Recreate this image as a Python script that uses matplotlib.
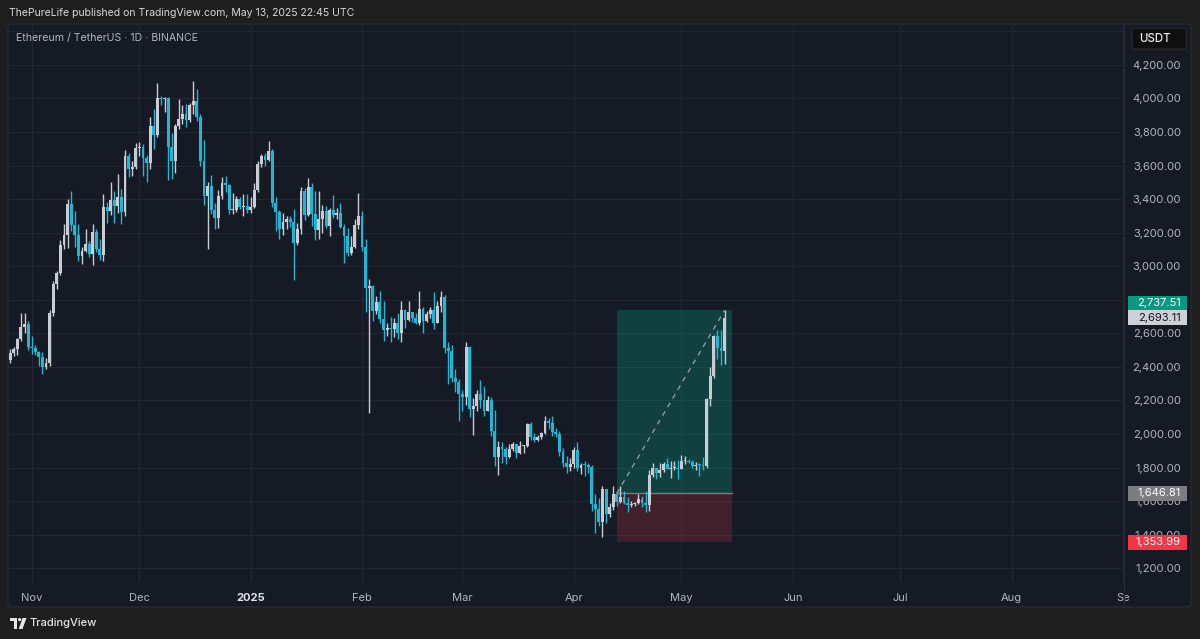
import matplotlib
matplotlib.use('Agg')
import matplotlib.pyplot as plt
import matplotlib.dates as mdates
from matplotlib.patches import Rectangle, FancyBboxPatch, Polygon, Circle
from matplotlib.lines import Line2D
from matplotlib.transforms import IdentityTransform
import pandas as pd
import numpy as np

# ---------------- data ----------------
start_date = '2024-10-26'
opens = [2439, 2480, 2507, 2567, 2639, 2658, 2518, 2512, 2491, 2457,
         2398, 2421, 2721, 2895, 2962, 3127, 3184, 3371, 3243, 3186,
         3060, 3090, 3133, 3073, 3207, 3105, 3070, 3356, 3328, 3393,
         3362, 3414, 3326, 3655, 3579, 3592, 3705, 3708, 3645, 3614,
         3838, 3785, 4000, 3996, 4005, 3713, 3630, 3835, 3880, 3908,
         3872, 3960, 3985, 3890, 3630, 3420, 3476, 3335, 3285, 3420,
         3495, 3485, 3333, 3335, 3400, 3352, 3358, 3333, 3355, 3453,
         3612, 3660, 3636, 3685, 3380, 3325, 3220, 3265, 3282, 3266,
         3136, 3225, 3450, 3305, 3475, 3310, 3215, 3280, 3327, 3242,
         3336, 3305, 3318, 3232, 3182, 3077, 3114, 3246, 3300, 3117,
         2870, 2880, 2732, 2788, 2686, 2623, 2632, 2627, 2661, 2603,
         2738, 2677, 2725, 2693, 2663, 2744, 2671, 2714, 2738, 2663,
         2764, 2816, 2511, 2496, 2333, 2308, 2237, 2218, 2518, 2152,
         2170, 2240, 2200, 2140, 2202, 2016, 1865, 1922, 1910, 1865,
         1910, 1938, 1887, 1928, 1931, 2057, 1981, 1966, 1982, 2004,
         2080, 2068, 2010, 2003, 1895, 1828, 1805, 1823, 1906, 1795,
         1816, 1815, 1806, 1580, 1553, 1473, 1670, 1522, 1566, 1643,
         1596, 1622, 1587, 1576, 1584, 1588, 1614, 1587, 1578, 1756,
         1796, 1769, 1786, 1819, 1792, 1797, 1799, 1793, 1838, 1842,
         1833, 1807, 1816, 1815, 1809, 2207, 2345, 2582, 2514, 2495]
highs = [2508, 2520, 2575, 2722, 2722, 2675, 2585, 2530, 2497, 2489,
         2456, 2742, 2910, 2970, 3159, 3250, 3400, 3446, 3329, 3250,
         3115, 3220, 3151, 3253, 3220, 3160, 3430, 3385, 3500, 3448,
         3550, 3460, 3690, 3675, 3630, 3735, 3740, 3730, 3665, 3890,
         3940, 4090, 4015, 4010, 4010, 3795, 3845, 3995, 3960, 3970,
         3975, 4107, 4055, 3910, 3750, 3500, 3545, 3375, 3455, 3530,
         3540, 3490, 3435, 3418, 3410, 3430, 3430, 3410, 3495, 3625,
         3670, 3675, 3745, 3700, 3410, 3335, 3320, 3300, 3300, 3340,
         3260, 3475, 3465, 3525, 3495, 3450, 3450, 3365, 3360, 3350,
         3425, 3345, 3375, 3250, 3230, 3180, 3280, 3437, 3330, 3160,
         2925, 2890, 2825, 2855, 2795, 2660, 2695, 2690, 2720, 2795,
         2745, 2790, 2727, 2720, 2850, 2755, 2735, 2760, 2845, 2790,
         2855, 2830, 2550, 2530, 2390, 2325, 2260, 2550, 2525, 2215,
         2260, 2320, 2285, 2225, 2220, 2145, 1960, 1955, 1925, 1940,
         1950, 1940, 1960, 1935, 2065, 2070, 2005, 1995, 2010, 2105,
         2095, 2110, 2035, 2020, 1915, 1870, 1860, 1925, 1955, 1830,
         1840, 1825, 1815, 1640, 1620, 1690, 1675, 1590, 1690, 1660,
         1690, 1660, 1625, 1600, 1596, 1640, 1630, 1660, 1785, 1830,
         1800, 1825, 1835, 1860, 1840, 1838, 1845, 1875, 1870, 1850,
         1845, 1835, 1830, 1865, 2215, 2400, 2590, 2620, 2620, 2737]
lows = [2425, 2465, 2470, 2557, 2600, 2500, 2478, 2470, 2406, 2356,
        2385, 2407, 2701, 2865, 2945, 3103, 3107, 3208, 3117, 3034,
        3016, 3086, 3055, 3010, 3087, 3040, 3030, 3260, 3305, 3255,
        3315, 3250, 3297, 3530, 3540, 3580, 3660, 3540, 3500, 3580,
        3700, 3770, 3960, 3920, 3515, 3520, 3555, 3820, 3845, 3830,
        3860, 3905, 3865, 3600, 3365, 3100, 3310, 3225, 3230, 3400,
        3445, 3310, 3310, 3325, 3340, 3300, 3320, 3320, 3345, 3440,
        3590, 3595, 3625, 3355, 3210, 3160, 3185, 3225, 3235, 2920,
        3125, 3190, 3275, 3300, 3240, 3155, 3160, 3200, 3230, 3180,
        3285, 3280, 3230, 3020, 3060, 3065, 3110, 3225, 3090, 2725,
        2125, 2675, 2715, 2660, 2555, 2585, 2550, 2580, 2567, 2550,
        2630, 2673, 2670, 2655, 2650, 2600, 2665, 2690, 2625, 2660,
        2730, 2485, 2300, 2310, 2250, 2075, 2140, 2175, 2100, 1993,
        2135, 2155, 2105, 2135, 1990, 1810, 1755, 1830, 1820, 1855,
        1900, 1860, 1880, 1885, 1925, 1963, 1950, 1960, 1970, 2000,
        2030, 1990, 1985, 1870, 1805, 1770, 1780, 1800, 1780, 1760,
        1750, 1765, 1540, 1410, 1450, 1385, 1470, 1505, 1545, 1570,
        1590, 1580, 1535, 1565, 1571, 1580, 1565, 1535, 1540, 1745,
        1730, 1745, 1775, 1790, 1740, 1785, 1730, 1790, 1820, 1825,
        1800, 1785, 1750, 1785, 1800, 2165, 2335, 2450, 2410, 2420]
closes = [2480, 2507, 2567, 2639, 2658, 2518, 2512, 2491, 2457, 2398,
          2421, 2721, 2895, 2962, 3127, 3184, 3371, 3243, 3186, 3060,
          3090, 3133, 3073, 3207, 3105, 3070, 3356, 3328, 3393, 3362,
          3414, 3326, 3655, 3579, 3592, 3705, 3708, 3645, 3614, 3838,
          3785, 4000, 3996, 4005, 3713, 3630, 3835, 3880, 3908, 3872,
          3960, 3985, 3890, 3630, 3420, 3476, 3335, 3285, 3420, 3495,
          3485, 3333, 3335, 3400, 3352, 3358, 3333, 3355, 3453, 3612,
          3660, 3636, 3685, 3380, 3325, 3220, 3265, 3282, 3266, 3136,
          3225, 3450, 3305, 3475, 3310, 3215, 3280, 3327, 3242, 3336,
          3305, 3318, 3232, 3182, 3077, 3114, 3246, 3300, 3117, 2870,
          2880, 2732, 2788, 2686, 2623, 2632, 2627, 2661, 2603, 2738,
          2677, 2725, 2693, 2663, 2744, 2671, 2714, 2738, 2663, 2764,
          2816, 2511, 2496, 2333, 2308, 2237, 2218, 2518, 2152, 2170,
          2240, 2200, 2140, 2202, 2016, 1865, 1922, 1910, 1865, 1910,
          1938, 1887, 1928, 1931, 2057, 1981, 1966, 1982, 2004, 2080,
          2068, 2010, 2003, 1895, 1828, 1805, 1823, 1906, 1795, 1816,
          1815, 1806, 1580, 1553, 1473, 1670, 1522, 1566, 1643, 1596,
          1622, 1587, 1576, 1584, 1588, 1614, 1587, 1578, 1756, 1796,
          1769, 1786, 1819, 1792, 1797, 1799, 1793, 1838, 1842, 1833,
          1807, 1816, 1815, 1809, 2207, 2345, 2582, 2514, 2495, 2693.11]

entry_price = 1646.81
target_price = 2737.51
stop_price = 1353.99
position_start = '2025-04-13'
position_end = '2025-05-15'

y_ticks = [1200, 1400, 1600, 1800, 2000, 2200, 2400, 2600, 2800, 3000,
           3200, 3400, 3600, 3800, 4000, 4200, 4400]
y_tick_labels = ['1,200.00', '1,400.00', '1,600.00', '1,800.00', '2,000.00',
                 '2,200.00', '2,400.00', '2,600.00', '', '3,000.00',
                 '3,200.00', '3,400.00', '3,600.00', '3,800.00', '4,000.00',
                 '4,200.00', '']
month_ticks = ['2024-11-01', '2024-12-01', '2025-01-01', '2025-02-01', '2025-03-01',
               '2025-04-01', '2025-05-01', '2025-06-01', '2025-07-01', '2025-08-01',
               '2025-09-01']
month_labels = ['Nov', 'Dec', '2025', 'Feb', 'Mar', 'Apr', 'May', 'Jun', 'Jul', 'Aug', 'Se']

title_text = 'ThePureLife published on TradingView.com, May 13, 2025 22:45 UTC'
symbol_text = 'Ethereum / TetherUS \u00b7 1D \u00b7 BINANCE'

# ---------------- style ----------------
W, H = 1200, 639
OUTER = '#1e1e1e'
PANEL = '#161a25'
GRID = '#232733'
UP = '#c9ccd3'
DOWN = '#1fb7d3'
AXTXT = '#b2b5be'

plt.rcParams['font.family'] = ['Inter', 'DejaVu Sans']

fig = plt.figure(figsize=(W / 100, H / 100), dpi=100, facecolor=OUTER)


def fx(px):
    return px / W


def fy(py):
    return 1 - py / H


# chart panel
panel = FancyBboxPatch((fx(8), fy(607)), fx(1191) - fx(8), fy(24) - fy(607),
                       boxstyle='round,pad=0,rounding_size=0.004',
                       transform=fig.transFigure, facecolor=PANEL,
                       edgecolor='#2a2d36', linewidth=0.8, zorder=0)
fig.add_artist(panel)

ax = fig.add_axes([fx(8), fy(583), fx(1124) - fx(8), fy(24) - fy(583)])
ax.set_facecolor('none')
for s in ax.spines.values():
    s.set_visible(False)

dates = pd.date_range(start_date, periods=len(closes), freq='D')
x = mdates.date2num(dates)
o = np.array(opens, dtype=float)
h = np.array(highs, dtype=float)
l = np.array(lows, dtype=float)
c = np.array(closes, dtype=float)
up = c >= o
cols = np.where(up, UP, DOWN)

nov1 = mdates.date2num(pd.Timestamp('2024-11-01'))
ax.set_xlim(nov1 - 6.6, nov1 + 304.27)
ax.set_ylim(1112, 4444)

# grid
ax.set_yticks(y_ticks)
ax.set_yticklabels(y_tick_labels)
mt = mdates.date2num(pd.to_datetime(month_ticks))
ax.set_xticks(mt)
ax.set_xticklabels(month_labels)
ax.grid(True, color=GRID, linewidth=0.8, zorder=0)
ax.set_axisbelow(True)

ax.yaxis.tick_right()
ax.tick_params(axis='y', length=0, pad=41, labelsize=8, labelcolor=AXTXT)
for t in ax.get_yticklabels():
    t.set_horizontalalignment('right')
ax.tick_params(axis='x', length=0, pad=7, labelsize=8, labelcolor=AXTXT)
for t in ax.get_xticklabels():
    if t.get_text() == '2025':
        t.set_fontweight('bold')
        t.set_color('#e0e3eb')

# long position tool
ps = mdates.date2num(pd.Timestamp(position_start))
pe = mdates.date2num(pd.Timestamp(position_end))
ax.add_patch(Rectangle((ps, entry_price), pe - ps, target_price - entry_price,
                       facecolor='#089981', alpha=0.3, linewidth=0, zorder=1))
ax.add_patch(Rectangle((ps, stop_price), pe - ps, entry_price - stop_price,
                       facecolor='#f23645', alpha=0.2, linewidth=0, zorder=1))
ax.plot([ps, pe], [entry_price, entry_price], color='#787b86', linewidth=1.0, zorder=2)

# candles
ax.vlines(x, l, h, colors=cols, linewidth=1.0, zorder=3)
body_lo = np.minimum(o, c)
body_h = np.maximum(np.abs(c - o), 6)
ax.bar(x, body_h, bottom=body_lo, width=0.8, color=cols, linewidth=0, zorder=4)

# dashed line entry -> current
ax.plot([ps, x[-1]], [entry_price, h[-1]], color='#9ea2ab', linewidth=0.9,
        linestyle=(0, (4, 4)), zorder=5)

# separator between plot and price scale
fig.add_artist(Line2D([fx(1124), fx(1124)], [fy(607), fy(24)], transform=fig.transFigure,
                      color='#262a35', linewidth=0.8))

# price labels
ident = IdentityTransform()


def price_px(p):
    return ax.transData.transform((x[0], p))[1]


box_h = 14.5
bx0, bx1 = 1128, 1187
close_y = price_px(c[-1])
target_y = max(price_px(target_price), close_y + box_h)
labels = [
    (target_y, '2,737.51', '#089981', '#ffffff'),
    (close_y, '2,693.11', '#cdd0d6', '#131722'),
    (price_px(entry_price), '1,646.81', '#7b7d83', '#ffffff'),
    (price_px(stop_price), '1,353.99', '#f23645', '#ffffff'),
]
for yy, txt, fc, tc in labels:
    fig.add_artist(Rectangle((bx0, yy - box_h / 2), bx1 - bx0, box_h, transform=ident,
                             facecolor=fc, edgecolor='none', zorder=6))
    fig.text(1181, yy, txt, transform=ident, ha='right', va='center',
             fontsize=8, color=tc, zorder=7)

# USDT box
fig.add_artist(FancyBboxPatch((fx(1132), fy(49)), fx(1186) - fx(1132), fy(28) - fy(49),
                              boxstyle='round,pad=0,rounding_size=0.003',
                              transform=fig.transFigure, facecolor='#0f0f10',
                              edgecolor='#2c2c30', linewidth=0.8, zorder=6))
fig.text(fx(1139), fy(38.5), 'USDT', ha='left', va='center', fontsize=8.3,
         color='#e8e8e8', fontweight='medium', zorder=7)

# header texts
fig.text(fx(9), fy(13), title_text, ha='left', va='center', fontsize=7.55, color='#d6d6d6')
fig.text(fx(16), fy(38), symbol_text, ha='left', va='center', fontsize=7.6, color=AXTXT)

# TradingView logo + text
LOGO = '#e6e6e6'
fig.add_artist(Rectangle((10, H - 621), 7, 3, transform=ident, facecolor=LOGO, edgecolor='none'))
fig.add_artist(Rectangle((14, H - 629), 3, 11, transform=ident, facecolor=LOGO, edgecolor='none'))
fig.add_artist(Circle((19.6, H - 619.6), 1.6, transform=ident, facecolor=LOGO, edgecolor='none'))
fig.add_artist(Polygon([(22.5, H - 618), (26.5, H - 618), (22.5, H - 629), (18.8, H - 629)],
                       closed=True, transform=ident, facecolor=LOGO, edgecolor='none'))
fig.text(fx(29), fy(623.5), 'TradingView', ha='left', va='center', fontsize=8.0,
         color=LOGO, fontweight='medium')

fig.savefig('out.png', dpi=100, facecolor=OUTER)
